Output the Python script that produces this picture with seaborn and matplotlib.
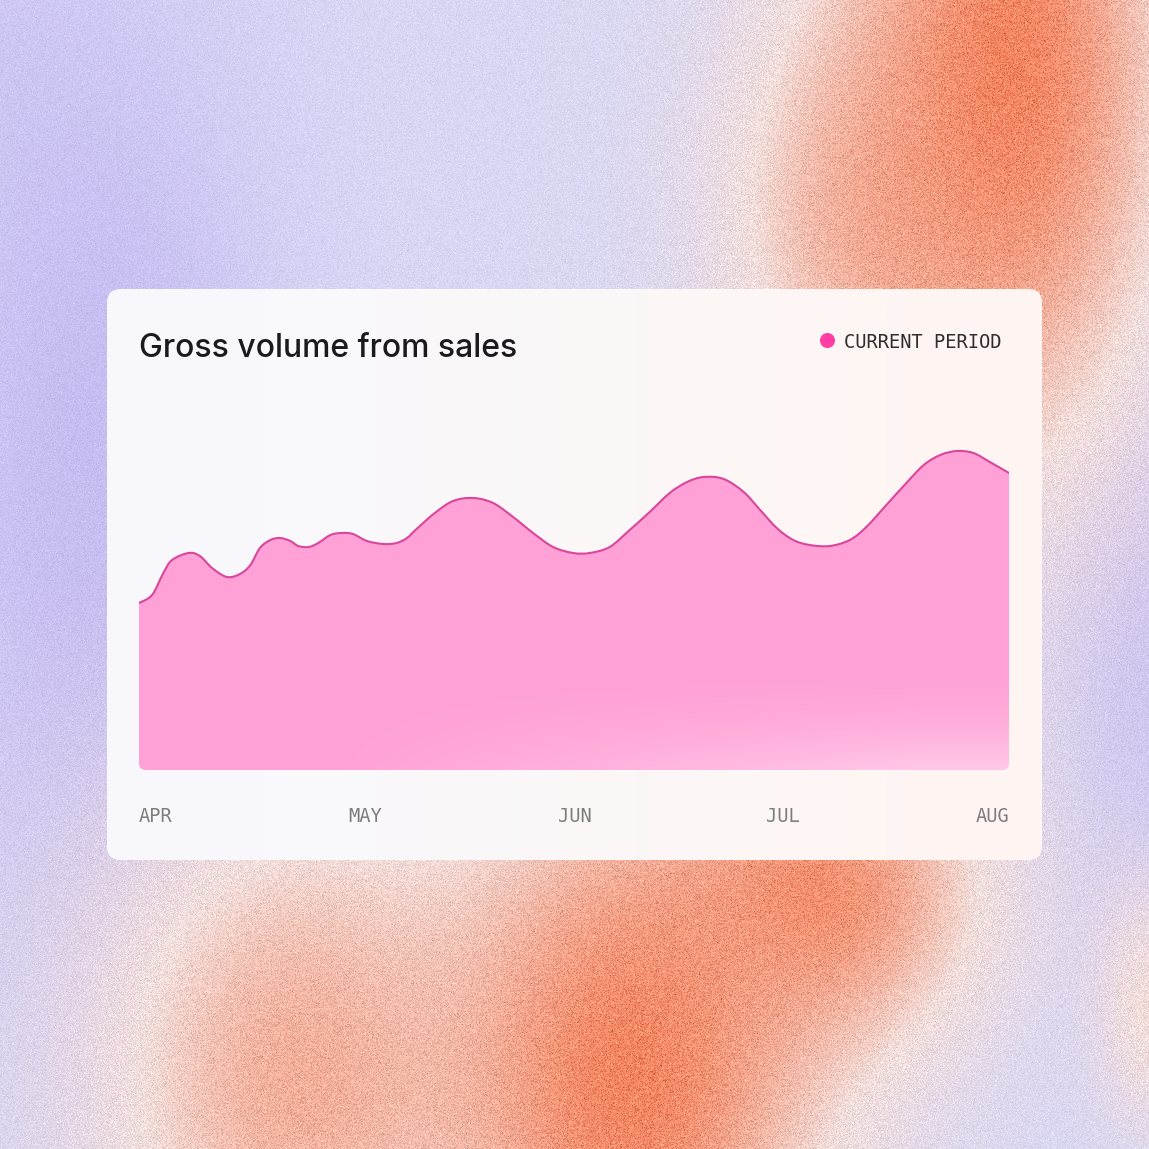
import numpy as np
import pandas as pd
import matplotlib.pyplot as plt
import seaborn as sns
from matplotlib.patches import FancyBboxPatch, PathPatch
from matplotlib.path import Path

# ─── DATA ──────────────────────────────────────────────────────
# x position along the period, 0 = start of APR, 100 = AUG
period_pct = [0, 1.5, 2.8, 3.8, 5.7, 7.0, 8.4, 10.1, 11.6, 12.8,
              13.9, 15.1, 16.2, 17.4, 18.3, 19.5, 20.6, 22.0, 23.3, 24.6,
              26.2, 28.1, 29.6, 30.8, 31.9, 34.0, 36.1, 38.4, 40.7,
              43.0, 45.3, 47.6, 49.9, 51.8, 54.1, 56.4, 58.7, 61.0, 63.0,
              64.9, 67.2, 69.5, 71.4, 73.3, 75.2, 77.1, 79.4, 81.7,
              83.6, 85.9, 88.2, 90.2, 92.1, 94.0, 95.9, 97.8, 100]
volume = [16.7, 17.5, 19.7, 21.0, 21.7, 21.4, 20.2, 19.3, 19.6, 20.5,
          22.2, 23.0, 23.2, 22.9, 22.4, 22.3, 22.7, 23.5, 23.7, 23.6,
          22.9, 22.6, 22.7, 23.2, 24.1, 25.7, 26.9, 27.2, 26.7,
          25.3, 23.7, 22.3, 21.7, 21.7, 22.3, 24.0, 25.8, 27.7, 28.8,
          29.3, 29.1, 27.8, 26.0, 24.2, 23.0, 22.5, 22.4, 23.0,
          24.3, 26.5, 28.7, 30.5, 31.5, 31.9, 31.7, 30.8, 29.7]
month_labels = ["APR", "MAY", "JUN", "JUL", "AUG"]
month_pos = [0, 26.0, 50.1, 74.0, 100]

TITLE = "Gross volume from sales"
LEGEND_LABEL = "CURRENT PERIOD"

FILL = "#FFA0D6"
LINE = "#D9469C"
DOT = "#FF3DA5"
# ────────────────────────────────────────────────────────────────

sns.set_theme(style="white")
plt.rcParams["font.family"] = ["Inter", "DejaVu Sans"]

W = H = 1149
fig = plt.figure(figsize=(11.49, 11.49), dpi=100)

# 1) background: soft lavender / orange bands with grain
bg = fig.add_axes([0, 0, 1, 1])
bg.set_xlim(0, W)
bg.set_ylim(H, 0)
bg.axis("off")

X, Y = np.meshgrid(np.arange(W), np.arange(H))


def blob(cx, cy, sx, sy):
    return np.exp(-(((X - cx) / sx) ** 2 + ((Y - cy) / sy) ** 2) / 2)


def union(items):
    return 1 - np.prod([1 - a * blob(*b) for b, a in items], axis=0)


orange_w = union([
    ((1010, 60, 130, 300), 1.0),
    ((860, 220, 110, 180), 0.6),
    ((630, 1080, 150, 230), 1.0),
    ((820, 890, 125, 120), 0.9),
    ((290, 1080, 150, 220), 0.72),
    ((1149, 1010, 40, 90), 0.45),
])
purple_w = union([
    ((90, 480, 130, 380), 1.0),
    ((1135, 620, 70, 230), 0.8),
    ((0, 60, 60, 120), 0.35),
])

base = np.array([0.85, 0.845, 0.955])
purple = np.array([0.775, 0.74, 0.95])
peach = np.array([0.95, 0.87, 0.86])
orange = np.array([0.97, 0.52, 0.38])

col = base * (1 - purple_w[..., None]) + purple * purple_w[..., None]
w = orange_w[..., None]
lo = np.clip(w / 0.45, 0, 1)
hi = np.clip((w - 0.45) / 0.55, 0, 1)
col = col * (1 - lo) + peach * lo
col = col * (1 - hi) + orange * hi
grain = np.random.default_rng(3).normal(0, 1, (H, W))[..., None]
col = np.clip(col + grain * (0.02 + 0.05 * w), 0, 1)
bg.imshow(col, extent=(0, W, H, 0), aspect="auto", interpolation="nearest", zorder=0)

# 2) card
card = FancyBboxPatch((107, 289), 935, 571, boxstyle="round,pad=0,rounding_size=14",
                      transform=bg.transData, facecolor="none", edgecolor="none")
bg.add_patch(card)
cx = np.linspace(0, 1, 200)
left_c = np.array([0.975, 0.975, 0.992])
right_c = np.array([0.997, 0.964, 0.952])
mix = np.clip(cx * 1.3 - 0.15, 0, 1)[None, :, None]
card_img = np.repeat(left_c * (1 - mix) + right_c * mix, 50, axis=0)
im = bg.imshow(card_img, extent=(107, 1042, 860, 289), aspect="auto",
               interpolation="bilinear", zorder=1)
im.set_clip_path(card)

bg.text(139, 357, TITLE, fontsize=23, fontweight=500, color="#1b1b1f",
        va="baseline", ha="left", zorder=5)
sns.scatterplot(x=[827], y=[340], s=117, color=DOT, linewidth=0, ax=bg, zorder=5)
bg.set_xlim(0, W)
bg.set_ylim(H, 0)
bg.text(844, 348, LEGEND_LABEL, fontsize=13.5, family="DejaVu Sans Mono",
        color="#2e2e2e", va="baseline", ha="left", zorder=5)

# 3) area chart
ax = fig.add_axes([139 / W, (H - 770) / H, 870 / W, 350 / H])
ax.patch.set_alpha(0)
df = pd.DataFrame({"period": period_pct, "volume": volume})

# smooth curve through the read points (catmull-rom drawn as cubic bezier)
px = df["period"].to_numpy()
py = df["volume"].to_numpy()
P = np.column_stack([px, py])
Pe = np.vstack([P[0], P, P[-1]])
verts = [P[0]]
codes = [Path.MOVETO]
for i in range(len(P) - 1):
    p0, p1, p2, p3 = Pe[i], Pe[i + 1], Pe[i + 2], Pe[i + 3]
    verts += [p1 + (p2 - p0) / 6, p2 - (p3 - p1) / 6, p2]
    codes += [Path.CURVE4] * 3
line_path = Path(verts, codes)
area_path = Path(verts + [(px[-1], 0), (px[0], 0), (px[0], py[0])],
                 codes + [Path.LINETO, Path.LINETO, Path.CLOSEPOLY])

clip_rect = FancyBboxPatch((139, 400), 870, 370, boxstyle="round,pad=0,rounding_size=7",
                           transform=bg.transData, facecolor="none", edgecolor="none")

area = PathPatch(area_path, facecolor=FILL, edgecolor="none", zorder=1)
ax.add_patch(area)
area.set_clip_path(clip_rect)

# lighter sheen towards the bottom right of the fill
gx = np.linspace(0, 1, 200)
gy = np.linspace(0, 1, 60)
sx = np.clip((gx - 0.2) / 0.7, 0, 1)
alpha = 0.42 * sx[None, :] * ((1 - gy[:, None]) ** 2)
sheen = np.zeros((60, 200, 4))
sheen[..., :3] = 1.0
sheen[..., 3] = alpha
sh = ax.imshow(sheen, extent=(0, 100, 0, 12), origin="lower", aspect="auto",
               interpolation="bilinear", zorder=2)
sh.set_clip_path(clip_rect)

ax.add_patch(PathPatch(line_path, facecolor="none", edgecolor=LINE, lw=1.5,
                       capstyle="round", joinstyle="round", zorder=3))

ax.set_xlim(0, 100)
ax.set_ylim(0, 35)
ax.set_xlabel("")
ax.set_ylabel("")
ax.set_yticks([])
ax.set_xticks(month_pos, month_labels)
ax.tick_params(axis="x", length=0, pad=27, labelsize=13.5, labelcolor="#7d7d7d")
for lab in ax.get_xticklabels():
    lab.set_family("DejaVu Sans Mono")
ax.get_xticklabels()[0].set_ha("left")
ax.get_xticklabels()[-1].set_ha("right")
sns.despine(ax=ax, left=True, bottom=True)

fig.savefig("out.png", dpi=100)
